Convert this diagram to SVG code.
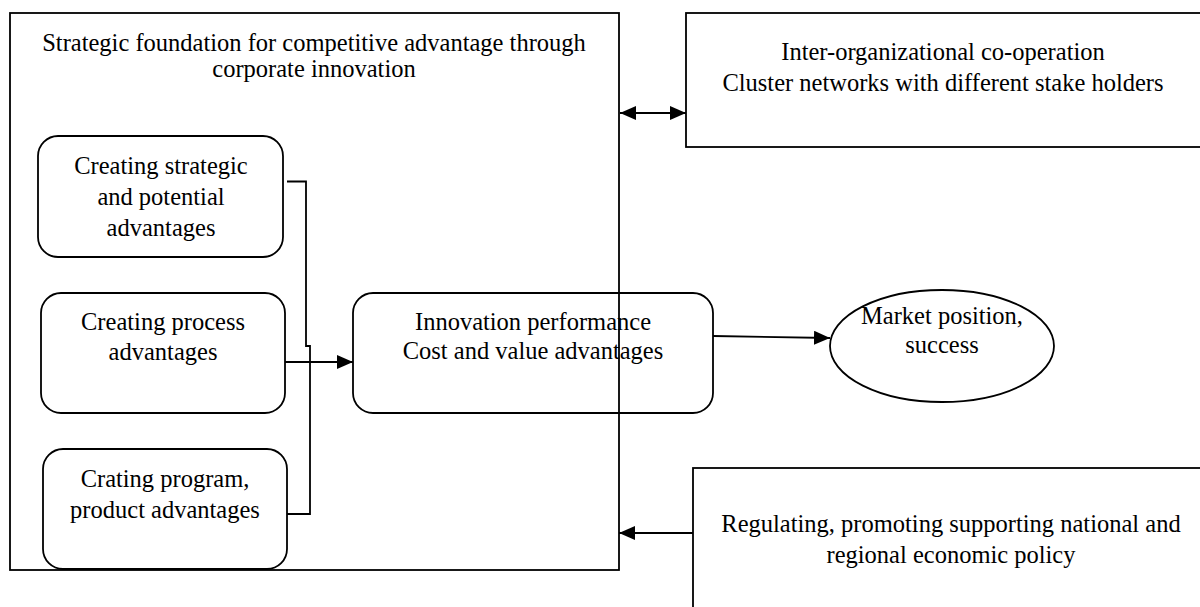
<svg xmlns="http://www.w3.org/2000/svg" width="1200" height="607" viewBox="0 0 1200 607">
<style>
.box{fill:none;stroke:#000;stroke-width:1.8}
.ln{fill:none;stroke:#000;stroke-width:1.8}
text{font-family:"Liberation Serif","Times New Roman",serif;font-size:24.5px;fill:#000;text-anchor:middle}
</style>
<defs>
<marker id="ah" viewBox="0 0 16 14" refX="16" refY="7" markerWidth="16" markerHeight="14" markerUnits="userSpaceOnUse" orient="auto-start-reverse">
<path d="M0,0 L16,7 L0,14 Z" fill="#000"/>
</marker>
</defs>
<rect width="1200" height="607" fill="#fff"/>
<g id="foundation">
<rect class="box" x="10" y="13" width="609" height="557"/>
<text x="314" y="51">Strategic foundation for competitive advantage through</text>
<text x="314" y="77">corporate innovation</text>
</g>
<g id="strategic">
<rect class="box" x="38" y="136" width="245" height="121" rx="20"/>
<text x="161" y="174">Creating strategic</text>
<text x="161" y="205">and potential</text>
<text x="161" y="236">advantages</text>
</g>
<g id="process">
<rect class="box" x="41" y="293" width="244" height="120" rx="20"/>
<text x="163" y="330">Creating process</text>
<text x="163" y="360">advantages</text>
</g>
<g id="program">
<rect class="box" x="43" y="449" width="244" height="120" rx="20"/>
<text x="165" y="487">Crating program,</text>
<text x="165" y="518">product advantages</text>
</g>
<g id="innovation">
<rect class="box" x="353" y="293" width="360" height="120" rx="20"/>
<text x="533" y="330">Innovation performance</text>
<text x="533" y="359">Cost and value advantages</text>
</g>
<g id="market">
<ellipse class="box" cx="942" cy="346" rx="112" ry="56"/>
<text x="942" y="324">Market position,</text>
<text x="942" y="353">success</text>
</g>
<g id="cooperation">
<rect class="box" x="686" y="13" width="530" height="134"/>
<text x="943" y="60">Inter-organizational co-operation</text>
<text x="943" y="91">Cluster networks with different stake holders</text>
</g>
<g id="policy">
<rect class="box" x="693" y="468" width="530" height="160"/>
<text x="951" y="532">Regulating, promoting supporting national and</text>
<text x="951" y="563">regional economic policy</text>
</g>
<g id="connectors">
<polyline class="ln" points="287,181.5 306,181.5 306,346 310,346 310,514 287,514"/>
<line class="ln" x1="285" y1="362" x2="353" y2="362" marker-end="url(#ah)"/>
<line class="ln" x1="713" y1="336" x2="830" y2="338" marker-end="url(#ah)"/>
<line class="ln" x1="620" y1="113" x2="686" y2="113" marker-start="url(#ah)" marker-end="url(#ah)"/>
<line class="ln" x1="693" y1="533" x2="619" y2="533" marker-end="url(#ah)"/>
</g>
</svg>
